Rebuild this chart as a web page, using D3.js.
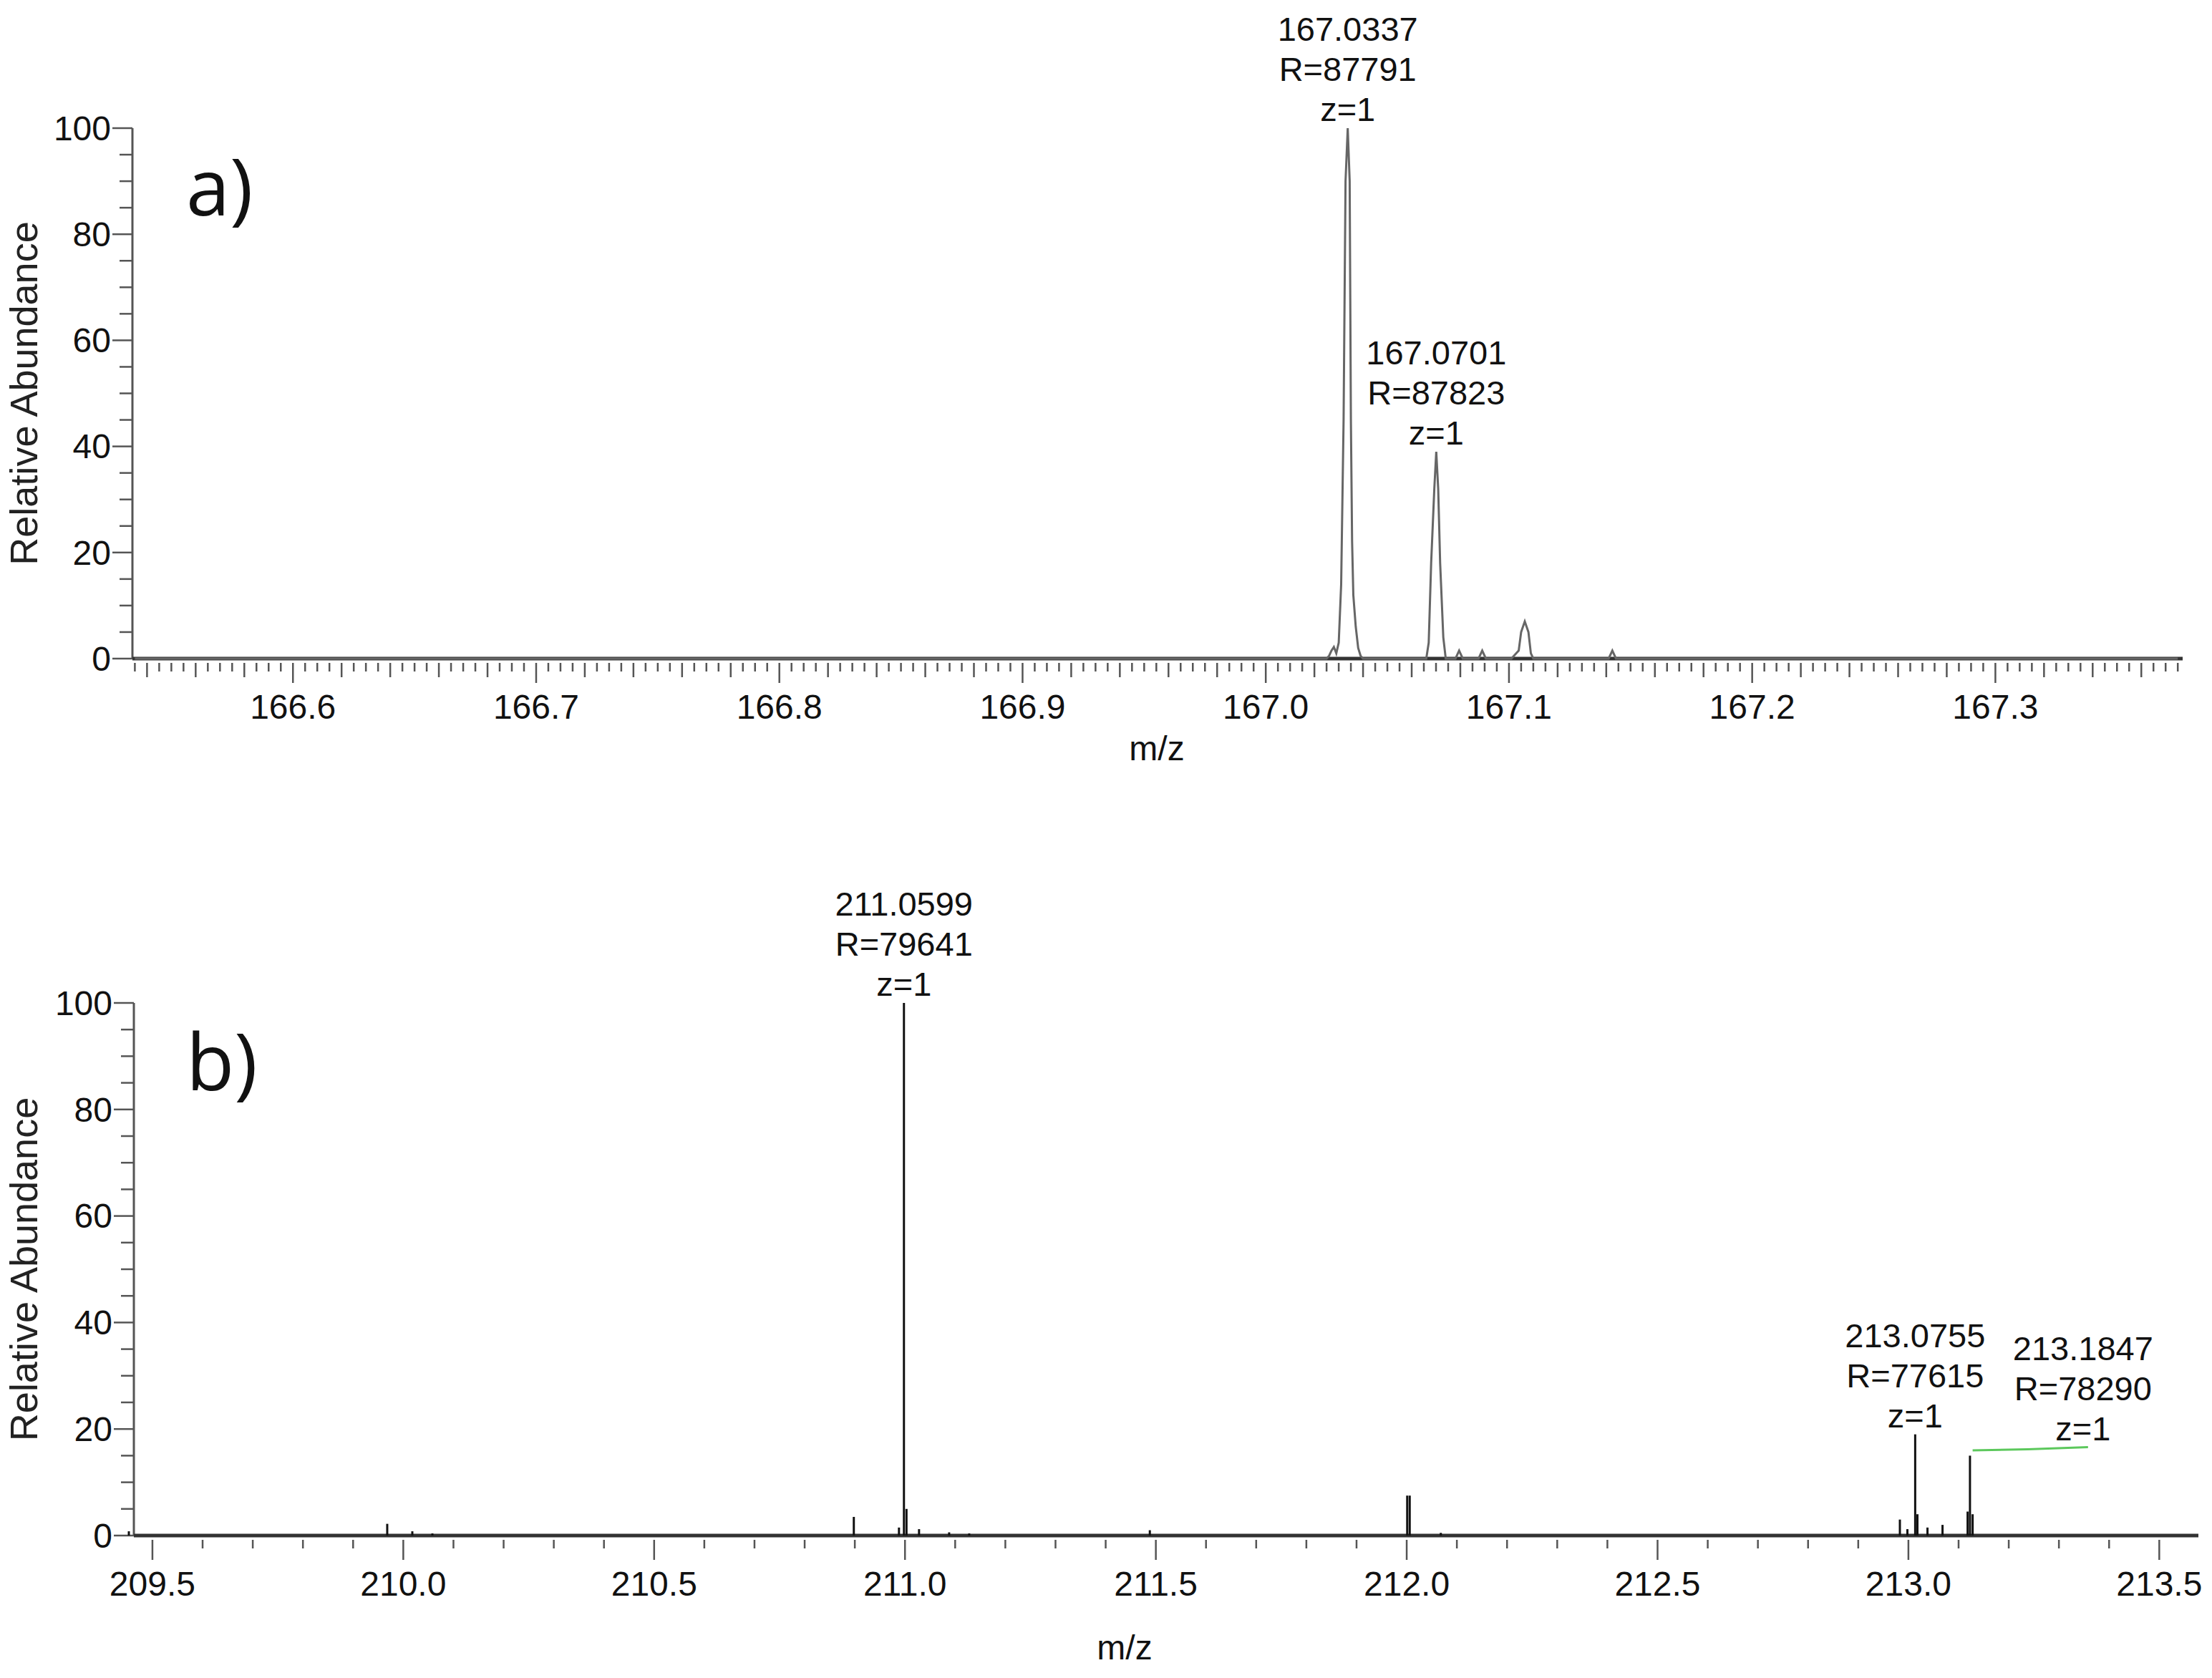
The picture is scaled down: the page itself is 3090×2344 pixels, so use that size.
<!DOCTYPE html>
<html><head><meta charset="utf-8">
<script src="https://cdn.jsdelivr.net/npm/d3@7"></script>
<style>body{margin:0;background:#fff}</style></head>
<body><svg id="c" width="3090" height="2344"></svg>
<script>
// Panel a profile (m/z, relative abundance)
const profileA = [
 [166.535,0],[167.025,0],[167.026,0.5],[167.027,1.5],[167.028,2.2],[167.029,1],[167.030,3],[167.031,14],[167.032,45],[167.0328,90],[167.0337,100],[167.0345,90],[167.035,45],[167.0355,22],[167.036,12],[167.037,6],[167.038,2],[167.039,0.5],[167.040,0],
 [167.066,0],[167.067,3],[167.068,18],[167.0693,32],[167.0701,39],[167.0709,32],[167.0717,18],[167.073,4],[167.074,0],
 [167.078,0],[167.0795,1.5],[167.081,0],[167.0875,0],[167.089,1.5],[167.0905,0],
 [167.101,0],[167.103,1],[167.104,1.5],[167.105,5],[167.1065,7],[167.108,5],[167.109,1],[167.110,0],
 [167.141,0],[167.1425,1.5],[167.144,0],[167.375,0]
];
// Panel b centroid sticks
const sticksB = [
 [209.515,0.8],[210.03,2.2],[210.08,0.8],[210.12,0.4],[210.96,3.5],[211.05,1.5],[211.0599,100],[211.065,5],[211.09,1.2],[211.15,0.6],[211.19,0.4],[211.55,1],[212.063,7.5],[212.068,7.5],[212.13,0.5],
 [213.045,3],[213.06,1.2],[213.0755,19],[213.08,4],[213.10,1.5],[213.13,2],[213.18,4.5],[213.1847,15],[213.19,4]
];
// [m/z, intensity, label text lines, label centre m/z, label top intensity]
const labelsA = [[167.0337,100,"167.0337","R=87791","z=1",167.0337,100],[167.0701,39,"167.0701","R=87823","z=1",167.0701,39]];
const labelsB = [[211.0599,100,"211.0599","R=79641","z=1",211.0599,100],[213.0755,19,"213.0755","R=77615","z=1",213.0755,19],[213.1847,15,"213.1847","R=78290","z=1",213.41,16.5]];
const greenLine = [[213.19,16],[213.30,16.2],[213.42,16.6]];
const yTicks = [0,20,40,60,80,100];
const xTicksA = [166.6,166.7,166.8,166.9,167.0,167.1,167.2,167.3];
const xTicksB = [209.5,210.0,210.5,211.0,211.5,212.0,212.5,213.0,213.5];

const svg = d3.select("#c");
const F = "Arial, 'Liberation Sans', sans-serif";

function panel(o){
  const g = svg.append("g");
  const x = d3.scaleLinear().domain(o.xd).range([o.left,o.right]);
  const y = d3.scaleLinear().domain([0,100]).range([o.y0,o.y100]);
  const off = o.tickOffset||0;
  g.append("line").attr("x1",o.left).attr("x2",o.left).attr("y1",y(0)).attr("y2",y(100)).attr("stroke","#555").attr("stroke-width",3);
  d3.range(0,101,5).forEach(v=>{
    g.append("line").attr("x1",o.left-(v%20===0?28:18)).attr("x2",o.left).attr("y1",y(v)).attr("y2",y(v)).attr("stroke","#555").attr("stroke-width",2.5);
  });
  yTicks.forEach(v=>g.append("text").attr("x",o.left-30).attr("y",y(v)).attr("dy","0.35em").attr("text-anchor","end")
    .attr("font-family",F).attr("font-size",48).attr("fill","#111").text(v));
  g.append("line").attr("x1",o.left).attr("x2",o.right).attr("y1",y(0)).attr("y2",y(0)).attr("stroke","#333").attr("stroke-width",5);
  const start = Math.ceil((o.xd[0]-off)/o.minor - 1e-6);
  for(let i=start;;i++){
    const v = i*o.minor;
    if(x(v+off)>o.right) break;
    const isMaj = Math.abs(v/o.major - Math.round(v/o.major))<1e-6;
    const isMid = o.mid && Math.abs(v/o.mid - Math.round(v/o.mid))<1e-6;
    const len = isMaj?28:(isMid?20:12);
    g.append("line").attr("x1",x(v+off)).attr("x2",x(v+off)).attr("y1",y(0)+6).attr("y2",y(0)+6+len).attr("stroke","#555").attr("stroke-width",2.5);
  }
  o.ticks.forEach(v=>g.append("text").attr("x",x(v+off)).attr("y",y(0)+84).attr("text-anchor","middle")
    .attr("font-family",F).attr("font-size",48).attr("fill","#111").text(v.toFixed(1)));
  g.append("text").attr("x",o.mzx).attr("y",o.mzy).attr("text-anchor","middle").attr("font-family",F).attr("font-size",48).attr("fill","#111").text("m/z");
  g.append("text").attr("transform",`translate(52,${(y(0)+y(100))/2}) rotate(-90)`).attr("text-anchor","middle")
    .attr("font-family",F).attr("font-size",54).attr("fill","#222").text("Relative Abundance");
  g.append("text").attr("x",260).attr("y",y(100)+122).attr("font-family","'Open Sans', 'DejaVu Sans', sans-serif").attr("font-size",110).attr("fill","#111").text(o.tag);
  o.labels.forEach(l=>{
    const t = y(l[6]) - 10;
    [l[2],l[3],l[4]].forEach((s,i)=>g.append("text").attr("x",x(l[5])).attr("y",t-(2-i)*56).attr("text-anchor","middle")
      .attr("font-family",F).attr("font-size",47).attr("fill","#111").text(s));
  });
  return {g,x,y};
}

const A = panel({xd:[166.534,167.377],left:185,right:3049,y0:920,y100:179,minor:0.005,mid:0.02,major:0.1,ticks:xTicksA,mzx:1616,mzy:1062,tag:"a)",labels:labelsA});
A.g.append("path").datum(profileA).attr("fill","none").attr("stroke","#666").attr("stroke-width",3)
  .attr("d",d3.line().x(d=>A.x(d[0])).y(d=>A.y(d[1])));

// instrument axis labels sit ~0.062 m/z to the right of nominal values
const B = panel({xd:[209.525,213.640],left:187,right:3071,y0:2145,y100:1401,minor:0.1,mid:null,major:0.5,ticks:xTicksB,tickOffset:0.062,mzx:1571,mzy:2318,tag:"b)",labels:labelsB});
B.g.selectAll(".s").data(sticksB).join("line").attr("x1",d=>B.x(d[0])).attr("x2",d=>B.x(d[0]))
  .attr("y1",B.y(0)).attr("y2",d=>B.y(d[1])).attr("stroke","#111").attr("stroke-width",3);
B.g.append("path").datum(greenLine).attr("fill","none").attr("stroke","#5cc85c").attr("stroke-width",3)
  .attr("d",d3.line().x(d=>B.x(d[0])).y(d=>B.y(d[1])));
</script></body></html>
